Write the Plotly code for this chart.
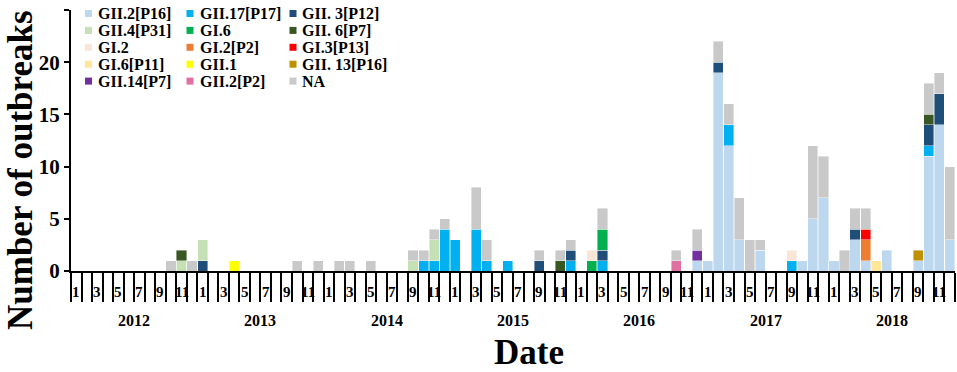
import plotly.graph_objects as go

# ---------------- data ----------------
YEARS = ["2012", "2013", "2014", "2015", "2016", "2017", "2018"]
MONTH_LABELS = ["1", "3", "5", "7", "9", "11"]   # shown month numbers
MONTH_LABEL_POS = [0, 2, 4, 6, 8, 10]             # month index inside a year
Y_TICKS = [0, 5, 10, 15, 20, 25]

Z = [0] * 12

GII2_P16 = (Z + Z + Z + Z +
            [0, 0, 0, 0, 0, 0, 0, 0, 0, 0, 0, 1] +
            [1, 19, 12, 3, 0, 2, 0, 0, 0, 1, 5, 7] +
            [1, 0, 3, 1, 0, 2, 0, 0, 1, 11, 14, 3])
GII17_P17 = (Z + Z +
             [0, 0, 0, 0, 0, 0, 0, 0, 0, 1, 1, 4] +
             [3, 0, 4, 1, 0, 1, 0, 0, 0, 0, 0, 1] +
             [0, 0, 1, 0, 0, 0, 0, 0, 0, 0, 0, 0] +
             [0, 0, 2, 0, 0, 0, 0, 0, 1, 0, 0, 0] +
             [0, 0, 0, 0, 0, 0, 0, 0, 0, 1, 0, 0])
GII3_P12 = (Z +
            [1, 0, 0, 0, 0, 0, 0, 0, 0, 0, 0, 0] +
            Z +
            [0, 0, 0, 0, 0, 0, 0, 0, 1, 0, 0, 1] +
            [0, 0, 1, 0, 0, 0, 0, 0, 0, 0, 0, 0] +
            [0, 1, 0, 0, 0, 0, 0, 0, 0, 0, 0, 0] +
            [0, 0, 1, 0, 0, 0, 0, 0, 0, 2, 3, 0])
GII4_P31 = ([0, 0, 0, 0, 0, 0, 0, 0, 0, 0, 1, 0] +
            [2, 0, 0, 0, 0, 0, 0, 0, 0, 0, 0, 0] +
            [0, 0, 0, 0, 0, 0, 0, 0, 1, 0, 2, 0] +
            Z + Z + Z + Z)
GII6_P7 = ([0, 0, 0, 0, 0, 0, 0, 0, 0, 0, 1, 0] +
           Z + Z +
           [0, 0, 0, 0, 0, 0, 0, 0, 0, 0, 1, 0] +
           Z + Z +
           [0, 0, 0, 0, 0, 0, 0, 0, 0, 1, 0, 0])
GI6 = (Z + Z + Z + Z +
       [0, 1, 2, 0, 0, 0, 0, 0, 0, 0, 0, 0] +
       Z + Z)
GI2 = (Z + Z + Z + Z +
       [0, 1, 0, 0, 0, 0, 0, 0, 0, 0, 0, 0] +
       [0, 0, 0, 0, 0, 0, 0, 0, 1, 0, 0, 0] +
       Z)
GI2_P2 = (Z + Z + Z + Z + Z + Z +
          [0, 0, 0, 2, 0, 0, 0, 0, 0, 0, 0, 0])
GI3_P13 = (Z + Z + Z + Z + Z + Z +
           [0, 0, 0, 1, 0, 0, 0, 0, 0, 0, 0, 0])
GI6_P11 = (Z + Z + Z + Z + Z + Z +
           [0, 0, 0, 0, 1, 0, 0, 0, 0, 0, 0, 0])
GII14_P7 = (Z + Z + Z + Z +
            [0, 0, 0, 0, 0, 0, 0, 0, 0, 0, 0, 1] +
            Z + Z)
GII1 = (Z +
        [0, 0, 0, 1, 0, 0, 0, 0, 0, 0, 0, 0] +
        Z + Z + Z + Z + Z)
GII2_P2 = (Z + Z + Z + Z +
           [0, 0, 0, 0, 0, 0, 0, 0, 0, 1, 0, 0] +
           Z + Z)
GII13_P16 = (Z + Z + Z + Z + Z + Z +
             [0, 0, 0, 0, 0, 0, 0, 0, 1, 0, 0, 0])
NA = ([0, 0, 0, 0, 0, 0, 0, 0, 0, 1, 0, 1] +
      [0, 0, 0, 0, 0, 0, 0, 0, 0, 1, 0, 1] +
      [0, 1, 1, 0, 1, 0, 0, 0, 1, 1, 1, 1] +
      [0, 0, 4, 2, 0, 0, 0, 0, 1, 0, 1, 1] +
      [0, 0, 2, 0, 0, 0, 0, 0, 0, 1, 0, 2] +
      [0, 2, 2, 4, 3, 1, 0, 0, 0, 0, 7, 4] +
      [0, 2, 2, 2, 0, 0, 0, 0, 0, 3, 2, 7])

# stacking order (bottom -> top): name, colour, values
SERIES = [
    ("GII.2[P16]", "#BDD7EE", GII2_P16),
    ("GII.17[P17]", "#00B0F0", GII17_P17),
    ("GII. 3[P12]", "#1F4E79", GII3_P12),
    ("GII.4[P31]", "#C5E0B4", GII4_P31),
    ("GII. 6[P7]", "#385723", GII6_P7),
    ("GI.6", "#00B050", GI6),
    ("GI.2", "#FBE5D6", GI2),
    ("GI.2[P2]", "#ED7D31", GI2_P2),
    ("GI.3[P13]", "#FF0000", GI3_P13),
    ("GI.6[P11]", "#FFE699", GI6_P11),
    ("GII.14[P7]", "#7030A0", GII14_P7),
    ("GII.1", "#FFFF00", GII1),
    ("GII.2[P2]", "#E0709F", GII2_P2),
    ("GII. 13[P16]", "#BF9000", GII13_P16),
    ("NA", "#C9C9C9", NA),
]
# legend layout (column-major, 3 columns x 5 rows)
LEGEND_COLUMNS = [
    ["GII.2[P16]", "GII.4[P31]", "GI.2", "GI.6[P11]", "GII.14[P7]"],
    ["GII.17[P17]", "GI.6", "GI.2[P2]", "GII.1", "GII.2[P2]"],
    ["GII. 3[P12]", "GII. 6[P7]", "GI.3[P13]", "GII. 13[P16]", "NA"],
]

# ---------------- layout constants ----------------
W, H = 957, 372
ML, MR, MT, MB = 71, 2, 10, 101
PW, PH = W - ML - MR, H - MT - MB
FONT = "Liberation Serif, Times New Roman, serif"


def xp(px):
    return (px - ML) / PW


def yp(py):
    return (MT + PH - py) / PH


n_months = len(YEARS) * 12
x_idx = list(range(n_months))

fig = go.Figure()
for name, color, vals in SERIES:
    fig.add_trace(go.Bar(
        x=x_idx, y=[v if v else None for v in vals], name=name,
        marker=dict(color=color, line=dict(color="rgba(255,255,255,0.7)", width=0.6)),
        showlegend=False,
        hovertemplate=name + ": %{y}<extra></extra>",
    ))

year_bounds = [12 * k - 0.5 for k in range(len(YEARS) + 1)]
month_bounds = [i - 0.5 for i in range(n_months + 1)]

annotations = []
# month labels
for k in range(len(YEARS)):
    for lab, pos in zip(MONTH_LABELS, MONTH_LABEL_POS):
        annotations.append(dict(
            x=12 * k + pos, y=0, xref="x", yref="paper", text=lab,
            showarrow=False, yanchor="middle", xanchor="center", yshift=-21,
            font=dict(family=FONT, size=15, color="black", weight="bold")))
# year labels
for k, yr in enumerate(YEARS):
    annotations.append(dict(
        x=12 * k + 5.5, y=0, xref="x", yref="paper", text=yr,
        showarrow=False, yanchor="middle", xanchor="center", yshift=-49.5,
        font=dict(family=FONT, size=16, color="black", weight="bold")))
# axis titles
annotations.append(dict(
    x=xp(529), y=0, xref="paper", yref="paper", text="Date", showarrow=False,
    xanchor="center", yanchor="middle", yshift=-81, borderpad=0,
    font=dict(family=FONT, size=35, color="black", weight="bold")))
annotations.append(dict(
    x=xp(20), y=yp(170), xref="paper", yref="paper", text="Number of outbreaks",
    showarrow=False, textangle=-90, xanchor="center", yanchor="middle", borderpad=0,
    font=dict(family=FONT, size=35, color="black", weight="bold")))

# manual legend (3 columns)
color_of = {n: c for n, c, _ in SERIES}
SWATCH_X = [85, 186.5, 289.5]
TEXT_X = [95.5, 197.5, 299.5]
shapes = []
for c, col in enumerate(LEGEND_COLUMNS):
    for r, name in enumerate(col):
        cy = 13.5 + 16.9 * r
        shapes.append(dict(
            type="rect", xref="paper", yref="paper",
            x0=xp(SWATCH_X[c]), x1=xp(SWATCH_X[c] + 7),
            y0=yp(cy + 3.5), y1=yp(cy - 3.5),
            fillcolor=color_of[name], line=dict(width=0)))
        annotations.append(dict(
            x=xp(TEXT_X[c]), y=yp(cy), xref="paper", yref="paper", text=name,
            showarrow=False, xanchor="left", yanchor="middle",
            font=dict(family=FONT, size=16, color="black", weight="bold")))

fig.update_layout(
    width=W, height=H,
    margin=dict(l=ML, r=MR, t=MT, b=MB, pad=0),
    paper_bgcolor="white", plot_bgcolor="white",
    barmode="stack", bargap=0.04,
    showlegend=False,
    font=dict(family=FONT, color="black"),
    xaxis=dict(
        range=[-0.5, n_months - 0.5], showgrid=False, zeroline=False,
        showline=True, linecolor="black", linewidth=2,
        tickmode="array", tickvals=year_bounds, ticktext=[""] * len(year_bounds),
        ticks="outside", ticklen=57, tickwidth=2, tickcolor="black",
        minor=dict(tickmode="array", tickvals=month_bounds, ticks="outside",
                   ticklen=29, tickwidth=2, tickcolor="black", showgrid=False),
    ),
    yaxis=dict(
        range=[0, 25], showgrid=False, zeroline=False,
        showline=True, linecolor="black", linewidth=2,
        tickmode="array", tickvals=Y_TICKS, ticks="outside", ticklen=5,
        tickwidth=2, tickcolor="black",
        tickfont=dict(family=FONT, size=21, color="black", weight="bold"),
    ),
    annotations=annotations,
    shapes=shapes,
)

# remove the browser's default 8px body margin so the figure fills the window
fig.write_html("out.html", config={"displayModeBar": False},
               post_script="document.body.style.margin='0';")
